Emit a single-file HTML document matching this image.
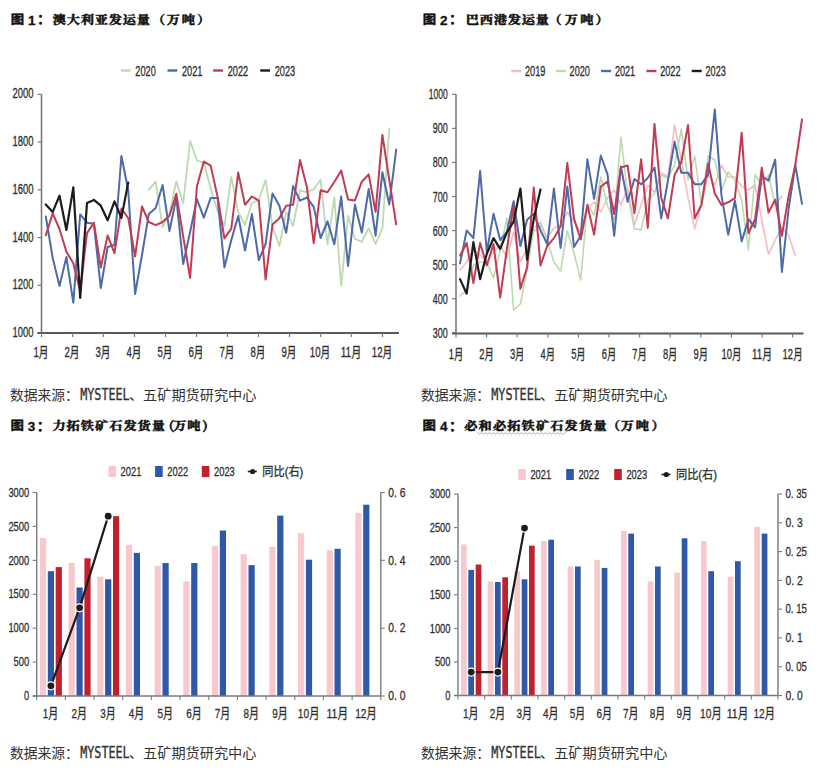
<!DOCTYPE html>
<html><head><meta charset="utf-8"><style>
html,body{margin:0;padding:0;background:#fff;width:821px;height:770px;overflow:hidden}
svg{display:block}
</style></head><body>
<svg width="821" height="770" viewBox="0 0 821 770">
<rect width="821" height="770" fill="#fff"/>
<text x="10.7" y="23.7" font-size="13.4" fill="#111" stroke="#111" stroke-width="0.5" font-weight="bold" font-family='"Liberation Sans", "Noto Sans CJK SC", sans-serif' transform="translate(0 23.7) scale(1 0.9) translate(0 -23.7)">图</text>
<text x="31.8" y="24.6" font-size="13.5" fill="#111" stroke="#111" stroke-width="0.3" font-weight="bold" text-anchor="middle" font-family='"Liberation Sans", sans-serif'>1</text>
<text x="37" y="24.2" font-size="14" fill="#111" stroke="#111" stroke-width="0.3" font-weight="bold" font-family='"Liberation Sans", "Noto Sans CJK SC", sans-serif'>：</text>
<text x="52.7 66.7 80.7 94.7 108.7 122.7 136.7 151.9 166.7 181.7 197.1" y="23.7" transform="translate(0 23.7) scale(1 0.9) translate(0 -23.7)" font-size="13.2" fill="#111" stroke="#111" stroke-width="0.6" font-weight="bold" font-family='"Noto Serif CJK SC", serif'>澳大利亚发运量（万吨）</text>
<line x1="120.8" y1="70.5" x2="130.6" y2="70.5" stroke="#bcd9b0" stroke-width="2.4"/>
<text x="135.3" y="76" font-size="14" fill="#2e2e2e" stroke="#2e2e2e" stroke-width="0.3" textLength="20.5" lengthAdjust="spacingAndGlyphs" font-family='"Liberation Sans", "Noto Sans CJK SC", sans-serif'>2020</text>
<line x1="167.5" y1="70.5" x2="177.3" y2="70.5" stroke="#4d6aa9" stroke-width="2.4"/>
<text x="182" y="76" font-size="14" fill="#2e2e2e" stroke="#2e2e2e" stroke-width="0.3" textLength="20.5" lengthAdjust="spacingAndGlyphs" font-family='"Liberation Sans", "Noto Sans CJK SC", sans-serif'>2021</text>
<line x1="213.2" y1="70.5" x2="223.0" y2="70.5" stroke="#c23b52" stroke-width="2.4"/>
<text x="227.7" y="76" font-size="14" fill="#2e2e2e" stroke="#2e2e2e" stroke-width="0.3" textLength="20.5" lengthAdjust="spacingAndGlyphs" font-family='"Liberation Sans", "Noto Sans CJK SC", sans-serif'>2022</text>
<line x1="260.2" y1="70.5" x2="270.0" y2="70.5" stroke="#1c1c1c" stroke-width="2.4"/>
<text x="274.7" y="76" font-size="14" fill="#2e2e2e" stroke="#2e2e2e" stroke-width="0.3" textLength="20.5" lengthAdjust="spacingAndGlyphs" font-family='"Liberation Sans", "Noto Sans CJK SC", sans-serif'>2023</text>
<line x1="41.5" y1="94.3" x2="41.5" y2="333.0" stroke="#7a7a7a" stroke-width="1.6"/>
<line x1="37.5" y1="94.3" x2="41.5" y2="94.3" stroke="#7a7a7a" stroke-width="1.2"/>
<text x="33.5" y="98.3" font-size="14" fill="#2e2e2e" stroke="#2e2e2e" stroke-width="0.3" text-anchor="end" textLength="21" lengthAdjust="spacingAndGlyphs" font-family='"Liberation Sans", "Noto Sans CJK SC", sans-serif'>2000</text>
<line x1="37.5" y1="142.04" x2="41.5" y2="142.04" stroke="#7a7a7a" stroke-width="1.2"/>
<text x="33.5" y="146.04" font-size="14" fill="#2e2e2e" stroke="#2e2e2e" stroke-width="0.3" text-anchor="end" textLength="21" lengthAdjust="spacingAndGlyphs" font-family='"Liberation Sans", "Noto Sans CJK SC", sans-serif'>1800</text>
<line x1="37.5" y1="189.78" x2="41.5" y2="189.78" stroke="#7a7a7a" stroke-width="1.2"/>
<text x="33.5" y="193.78" font-size="14" fill="#2e2e2e" stroke="#2e2e2e" stroke-width="0.3" text-anchor="end" textLength="21" lengthAdjust="spacingAndGlyphs" font-family='"Liberation Sans", "Noto Sans CJK SC", sans-serif'>1600</text>
<line x1="37.5" y1="237.51999999999998" x2="41.5" y2="237.51999999999998" stroke="#7a7a7a" stroke-width="1.2"/>
<text x="33.5" y="241.52" font-size="14" fill="#2e2e2e" stroke="#2e2e2e" stroke-width="0.3" text-anchor="end" textLength="21" lengthAdjust="spacingAndGlyphs" font-family='"Liberation Sans", "Noto Sans CJK SC", sans-serif'>1400</text>
<line x1="37.5" y1="285.26" x2="41.5" y2="285.26" stroke="#7a7a7a" stroke-width="1.2"/>
<text x="33.5" y="289.26" font-size="14" fill="#2e2e2e" stroke="#2e2e2e" stroke-width="0.3" text-anchor="end" textLength="21" lengthAdjust="spacingAndGlyphs" font-family='"Liberation Sans", "Noto Sans CJK SC", sans-serif'>1200</text>
<line x1="37.5" y1="333.0" x2="41.5" y2="333.0" stroke="#7a7a7a" stroke-width="1.2"/>
<text x="33.5" y="337" font-size="14" fill="#2e2e2e" stroke="#2e2e2e" stroke-width="0.3" text-anchor="end" textLength="21" lengthAdjust="spacingAndGlyphs" font-family='"Liberation Sans", "Noto Sans CJK SC", sans-serif'>1000</text>
<line x1="37.5" y1="333.0" x2="399" y2="333.0" stroke="#5a5a5a" stroke-width="2.2"/>
<line x1="41.5" y1="333.0" x2="41.5" y2="337.0" stroke="#7a7a7a" stroke-width="1.2"/>
<text x="41" y="357.3" font-size="14" fill="#2e2e2e" stroke="#2e2e2e" stroke-width="0.3" text-anchor="middle" textLength="15" lengthAdjust="spacingAndGlyphs" font-family='"Liberation Sans", "Noto Sans CJK SC", sans-serif'>1月</text>
<line x1="72.5" y1="333.0" x2="72.5" y2="337.0" stroke="#7a7a7a" stroke-width="1.2"/>
<text x="72" y="357.3" font-size="14" fill="#2e2e2e" stroke="#2e2e2e" stroke-width="0.3" text-anchor="middle" textLength="15" lengthAdjust="spacingAndGlyphs" font-family='"Liberation Sans", "Noto Sans CJK SC", sans-serif'>2月</text>
<line x1="103.5" y1="333.0" x2="103.5" y2="337.0" stroke="#7a7a7a" stroke-width="1.2"/>
<text x="103" y="357.3" font-size="14" fill="#2e2e2e" stroke="#2e2e2e" stroke-width="0.3" text-anchor="middle" textLength="15" lengthAdjust="spacingAndGlyphs" font-family='"Liberation Sans", "Noto Sans CJK SC", sans-serif'>3月</text>
<line x1="134.5" y1="333.0" x2="134.5" y2="337.0" stroke="#7a7a7a" stroke-width="1.2"/>
<text x="134" y="357.3" font-size="14" fill="#2e2e2e" stroke="#2e2e2e" stroke-width="0.3" text-anchor="middle" textLength="15" lengthAdjust="spacingAndGlyphs" font-family='"Liberation Sans", "Noto Sans CJK SC", sans-serif'>4月</text>
<line x1="165.5" y1="333.0" x2="165.5" y2="337.0" stroke="#7a7a7a" stroke-width="1.2"/>
<text x="165" y="357.3" font-size="14" fill="#2e2e2e" stroke="#2e2e2e" stroke-width="0.3" text-anchor="middle" textLength="15" lengthAdjust="spacingAndGlyphs" font-family='"Liberation Sans", "Noto Sans CJK SC", sans-serif'>5月</text>
<line x1="196.5" y1="333.0" x2="196.5" y2="337.0" stroke="#7a7a7a" stroke-width="1.2"/>
<text x="196" y="357.3" font-size="14" fill="#2e2e2e" stroke="#2e2e2e" stroke-width="0.3" text-anchor="middle" textLength="15" lengthAdjust="spacingAndGlyphs" font-family='"Liberation Sans", "Noto Sans CJK SC", sans-serif'>6月</text>
<line x1="227.5" y1="333.0" x2="227.5" y2="337.0" stroke="#7a7a7a" stroke-width="1.2"/>
<text x="227" y="357.3" font-size="14" fill="#2e2e2e" stroke="#2e2e2e" stroke-width="0.3" text-anchor="middle" textLength="15" lengthAdjust="spacingAndGlyphs" font-family='"Liberation Sans", "Noto Sans CJK SC", sans-serif'>7月</text>
<line x1="258.5" y1="333.0" x2="258.5" y2="337.0" stroke="#7a7a7a" stroke-width="1.2"/>
<text x="258" y="357.3" font-size="14" fill="#2e2e2e" stroke="#2e2e2e" stroke-width="0.3" text-anchor="middle" textLength="15" lengthAdjust="spacingAndGlyphs" font-family='"Liberation Sans", "Noto Sans CJK SC", sans-serif'>8月</text>
<line x1="289.5" y1="333.0" x2="289.5" y2="337.0" stroke="#7a7a7a" stroke-width="1.2"/>
<text x="289" y="357.3" font-size="14" fill="#2e2e2e" stroke="#2e2e2e" stroke-width="0.3" text-anchor="middle" textLength="15" lengthAdjust="spacingAndGlyphs" font-family='"Liberation Sans", "Noto Sans CJK SC", sans-serif'>9月</text>
<line x1="320.5" y1="333.0" x2="320.5" y2="337.0" stroke="#7a7a7a" stroke-width="1.2"/>
<text x="320" y="357.3" font-size="14" fill="#2e2e2e" stroke="#2e2e2e" stroke-width="0.3" text-anchor="middle" textLength="20.5" lengthAdjust="spacingAndGlyphs" font-family='"Liberation Sans", "Noto Sans CJK SC", sans-serif'>10月</text>
<line x1="351.5" y1="333.0" x2="351.5" y2="337.0" stroke="#7a7a7a" stroke-width="1.2"/>
<text x="351" y="357.3" font-size="14" fill="#2e2e2e" stroke="#2e2e2e" stroke-width="0.3" text-anchor="middle" textLength="20.5" lengthAdjust="spacingAndGlyphs" font-family='"Liberation Sans", "Noto Sans CJK SC", sans-serif'>11月</text>
<line x1="382.5" y1="333.0" x2="382.5" y2="337.0" stroke="#7a7a7a" stroke-width="1.2"/>
<text x="382" y="357.3" font-size="14" fill="#2e2e2e" stroke="#2e2e2e" stroke-width="0.3" text-anchor="middle" textLength="20.5" lengthAdjust="spacingAndGlyphs" font-family='"Liberation Sans", "Noto Sans CJK SC", sans-serif'>12月</text>
<polyline points="148.8,189.9 155.7,181.6 162.6,227.0 169.5,213.5 176.3,181.3 183.2,203.1 190.1,140.8 196.9,160.5 203.8,162.6 210.7,188.6 217.6,211.4 224.4,226.0 231.3,177.0 238.2,212.0 245.0,225.0 251.9,203.0 258.8,200.0 265.6,180.0 272.5,227.0 279.4,246.0 286.2,212.0 293.1,226.0 300.0,190.3 306.9,192.3 313.7,189.2 320.6,179.9 327.5,244.3 334.3,197.5 341.2,285.8 348.1,216.0 354.9,238.8 361.8,241.9 368.7,228.4 375.6,244.0 382.4,228.4 389.3,128.7" fill="none" stroke="#bcd9b0" stroke-width="1.8" stroke-linejoin="round" stroke-linecap="round" opacity="1"/>
<polyline points="45.8,216.5 52.7,258.0 59.5,286.0 66.4,257.0 73.3,302.7 80.2,214.4 87.0,222.7 93.9,223.8 100.8,288.0 107.6,247.0 114.5,245.0 121.4,156.0 128.2,190.0 135.1,294.0 142.0,255.0 148.8,214.0 155.7,208.0 162.6,185.0 169.5,231.0 176.3,198.0 183.2,264.0 190.1,232.0 196.9,199.0 203.8,217.7 210.7,197.9 217.6,197.9 224.4,267.5 231.3,240.0 238.2,216.0 245.0,250.5 251.9,214.0 258.8,260.0 265.6,244.0 272.5,193.4 279.4,205.8 286.2,232.9 293.1,186.1 300.0,200.6 306.9,197.5 313.7,206.9 320.6,238.0 327.5,221.4 334.3,244.3 341.2,196.5 348.1,266.0 354.9,204.5 361.8,232.6 368.7,189.0 375.6,235.7 382.4,172.3 389.3,204.5 396.2,149.5" fill="none" stroke="#4d6aa9" stroke-width="2" stroke-linejoin="round" stroke-linecap="round" opacity="1"/>
<polyline points="45.8,235.2 52.7,213.4 59.5,229.0 66.4,251.8 73.3,263.2 80.2,291.3 87.0,233.1 93.9,222.7 100.8,267.6 107.6,235.4 114.5,253.2 121.4,208.6 128.2,218.0 135.1,256.4 142.0,206.5 148.8,222.0 155.7,225.2 162.6,222.0 169.5,215.7 176.3,193.8 183.2,236.4 190.1,277.9 196.9,186.5 203.8,161.6 210.7,165.7 217.6,196.9 224.4,238.4 231.3,228.7 238.2,172.6 245.0,204.8 251.9,196.5 258.8,200.6 265.6,279.6 272.5,224.5 279.4,218.3 286.2,205.8 293.1,204.8 300.0,160.1 306.9,187.1 313.7,243.2 320.6,190.3 327.5,192.3 334.3,182.0 341.2,170.5 348.1,199.5 354.9,200.5 361.8,181.7 368.7,174.4 375.6,211.8 382.4,134.9 389.3,180.0 396.2,224.3" fill="none" stroke="#c23b52" stroke-width="2" stroke-linejoin="round" stroke-linecap="round" opacity="1"/>
<polyline points="45.8,204.4 52.7,211.9 59.5,195.7 66.4,230.0 73.3,187.4 80.2,298.0 87.0,203.0 93.9,199.9 100.8,205.7 107.6,220.3 114.5,201.3 121.4,217.9 128.2,182.6" fill="none" stroke="#1c1c1c" stroke-width="2.2" stroke-linejoin="round" stroke-linecap="round" opacity="1"/>
<text x="422.7" y="23.7" font-size="13.4" fill="#111" stroke="#111" stroke-width="0.5" font-weight="bold" font-family='"Liberation Sans", "Noto Sans CJK SC", sans-serif' transform="translate(0 23.7) scale(1 0.9) translate(0 -23.7)">图</text>
<text x="443.8" y="24.6" font-size="13.5" fill="#111" stroke="#111" stroke-width="0.3" font-weight="bold" text-anchor="middle" font-family='"Liberation Sans", sans-serif'>2</text>
<text x="449" y="24.2" font-size="14" fill="#111" stroke="#111" stroke-width="0.3" font-weight="bold" font-family='"Liberation Sans", "Noto Sans CJK SC", sans-serif'>：</text>
<text x="465.7 479.7 493.7 507.7 521.7 535.7 548.4 564.7 580.2 595.6" y="23.7" transform="translate(0 23.7) scale(1 0.9) translate(0 -23.7)" font-size="13.2" fill="#111" stroke="#111" stroke-width="0.6" font-weight="bold" font-family='"Noto Serif CJK SC", serif'>巴西港发运量（万吨）</text>
<line x1="511.2" y1="71" x2="521.2" y2="71" stroke="#f5bcc5" stroke-width="2.4"/>
<text x="525" y="76.3" font-size="14" fill="#2e2e2e" stroke="#2e2e2e" stroke-width="0.3" textLength="20.3" lengthAdjust="spacingAndGlyphs" font-family='"Liberation Sans", "Noto Sans CJK SC", sans-serif'>2019</text>
<line x1="555.8" y1="71" x2="565.8" y2="71" stroke="#bcd9b0" stroke-width="2.4"/>
<text x="569.6" y="76.3" font-size="14" fill="#2e2e2e" stroke="#2e2e2e" stroke-width="0.3" textLength="20.3" lengthAdjust="spacingAndGlyphs" font-family='"Liberation Sans", "Noto Sans CJK SC", sans-serif'>2020</text>
<line x1="601.1" y1="71" x2="611.1" y2="71" stroke="#4d6aa9" stroke-width="2.4"/>
<text x="614.9" y="76.3" font-size="14" fill="#2e2e2e" stroke="#2e2e2e" stroke-width="0.3" textLength="20.3" lengthAdjust="spacingAndGlyphs" font-family='"Liberation Sans", "Noto Sans CJK SC", sans-serif'>2021</text>
<line x1="646.4" y1="71" x2="656.4" y2="71" stroke="#c23b52" stroke-width="2.4"/>
<text x="660.2" y="76.3" font-size="14" fill="#2e2e2e" stroke="#2e2e2e" stroke-width="0.3" textLength="20.3" lengthAdjust="spacingAndGlyphs" font-family='"Liberation Sans", "Noto Sans CJK SC", sans-serif'>2022</text>
<line x1="691.7" y1="71" x2="701.7" y2="71" stroke="#1c1c1c" stroke-width="2.4"/>
<text x="705.5" y="76.3" font-size="14" fill="#2e2e2e" stroke="#2e2e2e" stroke-width="0.3" textLength="20.3" lengthAdjust="spacingAndGlyphs" font-family='"Liberation Sans", "Noto Sans CJK SC", sans-serif'>2023</text>
<line x1="456.0" y1="94.3" x2="456.0" y2="333.5" stroke="#7a7a7a" stroke-width="1.6"/>
<line x1="452.0" y1="94.3" x2="456.0" y2="94.3" stroke="#7a7a7a" stroke-width="1.2"/>
<text x="447.8" y="99.3" font-size="14" fill="#2e2e2e" stroke="#2e2e2e" stroke-width="0.3" text-anchor="end" textLength="19" lengthAdjust="spacingAndGlyphs" font-family='"Liberation Sans", "Noto Sans CJK SC", sans-serif'>1000</text>
<line x1="452.0" y1="128.37" x2="456.0" y2="128.37" stroke="#7a7a7a" stroke-width="1.2"/>
<text x="447.8" y="133.37" font-size="14" fill="#2e2e2e" stroke="#2e2e2e" stroke-width="0.3" text-anchor="end" textLength="15" lengthAdjust="spacingAndGlyphs" font-family='"Liberation Sans", "Noto Sans CJK SC", sans-serif'>900</text>
<line x1="452.0" y1="162.44" x2="456.0" y2="162.44" stroke="#7a7a7a" stroke-width="1.2"/>
<text x="447.8" y="167.44" font-size="14" fill="#2e2e2e" stroke="#2e2e2e" stroke-width="0.3" text-anchor="end" textLength="15" lengthAdjust="spacingAndGlyphs" font-family='"Liberation Sans", "Noto Sans CJK SC", sans-serif'>800</text>
<line x1="452.0" y1="196.51" x2="456.0" y2="196.51" stroke="#7a7a7a" stroke-width="1.2"/>
<text x="447.8" y="201.51" font-size="14" fill="#2e2e2e" stroke="#2e2e2e" stroke-width="0.3" text-anchor="end" textLength="15" lengthAdjust="spacingAndGlyphs" font-family='"Liberation Sans", "Noto Sans CJK SC", sans-serif'>700</text>
<line x1="452.0" y1="230.57999999999998" x2="456.0" y2="230.57999999999998" stroke="#7a7a7a" stroke-width="1.2"/>
<text x="447.8" y="235.58" font-size="14" fill="#2e2e2e" stroke="#2e2e2e" stroke-width="0.3" text-anchor="end" textLength="15" lengthAdjust="spacingAndGlyphs" font-family='"Liberation Sans", "Noto Sans CJK SC", sans-serif'>600</text>
<line x1="452.0" y1="264.65" x2="456.0" y2="264.65" stroke="#7a7a7a" stroke-width="1.2"/>
<text x="447.8" y="269.65" font-size="14" fill="#2e2e2e" stroke="#2e2e2e" stroke-width="0.3" text-anchor="end" textLength="15" lengthAdjust="spacingAndGlyphs" font-family='"Liberation Sans", "Noto Sans CJK SC", sans-serif'>500</text>
<line x1="452.0" y1="298.72" x2="456.0" y2="298.72" stroke="#7a7a7a" stroke-width="1.2"/>
<text x="447.8" y="303.72" font-size="14" fill="#2e2e2e" stroke="#2e2e2e" stroke-width="0.3" text-anchor="end" textLength="15" lengthAdjust="spacingAndGlyphs" font-family='"Liberation Sans", "Noto Sans CJK SC", sans-serif'>400</text>
<line x1="452.0" y1="332.79" x2="456.0" y2="332.79" stroke="#7a7a7a" stroke-width="1.2"/>
<text x="447.8" y="337.79" font-size="14" fill="#2e2e2e" stroke="#2e2e2e" stroke-width="0.3" text-anchor="end" textLength="15" lengthAdjust="spacingAndGlyphs" font-family='"Liberation Sans", "Noto Sans CJK SC", sans-serif'>300</text>
<line x1="452.0" y1="333.5" x2="803.5" y2="333.5" stroke="#5a5a5a" stroke-width="2.2"/>
<line x1="456.0" y1="333.5" x2="456.0" y2="337.5" stroke="#7a7a7a" stroke-width="1.2"/>
<text x="456" y="359" font-size="14" fill="#2e2e2e" stroke="#2e2e2e" stroke-width="0.3" text-anchor="middle" textLength="14.5" lengthAdjust="spacingAndGlyphs" font-family='"Liberation Sans", "Noto Sans CJK SC", sans-serif'>1月</text>
<line x1="486.6" y1="333.5" x2="486.6" y2="337.5" stroke="#7a7a7a" stroke-width="1.2"/>
<text x="486.6" y="359" font-size="14" fill="#2e2e2e" stroke="#2e2e2e" stroke-width="0.3" text-anchor="middle" textLength="14.5" lengthAdjust="spacingAndGlyphs" font-family='"Liberation Sans", "Noto Sans CJK SC", sans-serif'>2月</text>
<line x1="517.2" y1="333.5" x2="517.2" y2="337.5" stroke="#7a7a7a" stroke-width="1.2"/>
<text x="517.2" y="359" font-size="14" fill="#2e2e2e" stroke="#2e2e2e" stroke-width="0.3" text-anchor="middle" textLength="14.5" lengthAdjust="spacingAndGlyphs" font-family='"Liberation Sans", "Noto Sans CJK SC", sans-serif'>3月</text>
<line x1="547.8" y1="333.5" x2="547.8" y2="337.5" stroke="#7a7a7a" stroke-width="1.2"/>
<text x="547.8" y="359" font-size="14" fill="#2e2e2e" stroke="#2e2e2e" stroke-width="0.3" text-anchor="middle" textLength="14.5" lengthAdjust="spacingAndGlyphs" font-family='"Liberation Sans", "Noto Sans CJK SC", sans-serif'>4月</text>
<line x1="578.4" y1="333.5" x2="578.4" y2="337.5" stroke="#7a7a7a" stroke-width="1.2"/>
<text x="578.4" y="359" font-size="14" fill="#2e2e2e" stroke="#2e2e2e" stroke-width="0.3" text-anchor="middle" textLength="14.5" lengthAdjust="spacingAndGlyphs" font-family='"Liberation Sans", "Noto Sans CJK SC", sans-serif'>5月</text>
<line x1="609.0" y1="333.5" x2="609.0" y2="337.5" stroke="#7a7a7a" stroke-width="1.2"/>
<text x="609" y="359" font-size="14" fill="#2e2e2e" stroke="#2e2e2e" stroke-width="0.3" text-anchor="middle" textLength="14.5" lengthAdjust="spacingAndGlyphs" font-family='"Liberation Sans", "Noto Sans CJK SC", sans-serif'>6月</text>
<line x1="639.6" y1="333.5" x2="639.6" y2="337.5" stroke="#7a7a7a" stroke-width="1.2"/>
<text x="639.6" y="359" font-size="14" fill="#2e2e2e" stroke="#2e2e2e" stroke-width="0.3" text-anchor="middle" textLength="14.5" lengthAdjust="spacingAndGlyphs" font-family='"Liberation Sans", "Noto Sans CJK SC", sans-serif'>7月</text>
<line x1="670.2" y1="333.5" x2="670.2" y2="337.5" stroke="#7a7a7a" stroke-width="1.2"/>
<text x="670.2" y="359" font-size="14" fill="#2e2e2e" stroke="#2e2e2e" stroke-width="0.3" text-anchor="middle" textLength="14.5" lengthAdjust="spacingAndGlyphs" font-family='"Liberation Sans", "Noto Sans CJK SC", sans-serif'>8月</text>
<line x1="700.8" y1="333.5" x2="700.8" y2="337.5" stroke="#7a7a7a" stroke-width="1.2"/>
<text x="700.8" y="359" font-size="14" fill="#2e2e2e" stroke="#2e2e2e" stroke-width="0.3" text-anchor="middle" textLength="14.5" lengthAdjust="spacingAndGlyphs" font-family='"Liberation Sans", "Noto Sans CJK SC", sans-serif'>9月</text>
<line x1="731.4000000000001" y1="333.5" x2="731.4000000000001" y2="337.5" stroke="#7a7a7a" stroke-width="1.2"/>
<text x="731.4" y="359" font-size="14" fill="#2e2e2e" stroke="#2e2e2e" stroke-width="0.3" text-anchor="middle" textLength="20" lengthAdjust="spacingAndGlyphs" font-family='"Liberation Sans", "Noto Sans CJK SC", sans-serif'>10月</text>
<line x1="762.0" y1="333.5" x2="762.0" y2="337.5" stroke="#7a7a7a" stroke-width="1.2"/>
<text x="762" y="359" font-size="14" fill="#2e2e2e" stroke="#2e2e2e" stroke-width="0.3" text-anchor="middle" textLength="20" lengthAdjust="spacingAndGlyphs" font-family='"Liberation Sans", "Noto Sans CJK SC", sans-serif'>11月</text>
<line x1="792.6" y1="333.5" x2="792.6" y2="337.5" stroke="#7a7a7a" stroke-width="1.2"/>
<text x="792.6" y="359" font-size="14" fill="#2e2e2e" stroke="#2e2e2e" stroke-width="0.3" text-anchor="middle" textLength="20" lengthAdjust="spacingAndGlyphs" font-family='"Liberation Sans", "Noto Sans CJK SC", sans-serif'>12月</text>
<polyline points="460.0,270.0 466.7,262.0 473.4,250.0 480.1,255.0 486.8,262.0 493.5,252.0 500.2,245.0 506.9,258.0 513.6,232.0 520.4,262.0 527.1,248.0 533.8,232.0 540.5,225.0 547.2,238.0 553.9,228.0 560.6,225.0 567.3,212.0 574.0,222.0 580.7,232.0 587.4,208.0 594.1,202.0 600.8,212.0 607.5,198.0 614.2,190.0 620.9,205.0 627.6,188.0 634.4,224.7 641.1,205.0 647.8,185.2 654.5,192.0 661.2,172.7 667.9,176.9 674.6,125.0 681.3,160.0 688.0,197.7 694.7,228.8 701.4,205.0 708.1,175.0 714.8,185.0 721.5,165.0 728.2,177.0 734.9,177.0 741.7,186.5 748.4,190.0 755.1,185.0 761.8,220.0 768.5,254.3 775.2,240.0 781.9,227.3 788.6,235.0 795.3,255.8" fill="none" stroke="#f5bcc5" stroke-width="1.6" stroke-linejoin="round" stroke-linecap="round" opacity="1"/>
<polyline points="460.0,296.0 466.7,290.0 473.4,265.0 480.1,262.0 486.8,262.0 493.5,278.0 500.2,250.0 506.9,218.0 513.6,310.0 520.4,304.0 527.1,270.0 533.8,228.0 540.5,222.0 547.2,240.0 553.9,262.0 560.6,271.0 567.3,231.0 574.0,253.0 580.7,280.0 587.4,204.0 594.1,215.0 600.8,177.0 607.5,206.0 614.2,220.0 620.9,137.0 627.6,193.5 634.4,228.8 641.1,229.9 647.8,200.0 654.5,193.5 661.2,175.0 667.9,178.0 674.6,165.0 681.3,129.0 688.0,180.0 694.7,156.0 701.4,204.0 708.1,156.0 714.8,160.0 721.5,191.0 728.2,172.0 734.9,180.0 741.7,200.0 748.4,249.6 755.1,174.8 761.8,185.0 768.5,175.0 775.2,205.0 781.9,196.0" fill="none" stroke="#bcd9b0" stroke-width="1.6" stroke-linejoin="round" stroke-linecap="round" opacity="1"/>
<polyline points="460.0,263.5 466.7,230.4 473.4,238.2 480.1,171.0 486.8,251.8 493.5,213.8 500.2,240.1 506.9,232.0 513.6,201.2 520.4,246.0 527.1,219.7 533.8,213.8 540.5,230.4 547.2,244.0 553.9,188.5 560.6,248.0 567.3,186.5 574.0,246.9 580.7,235.8 587.4,159.3 594.1,198.8 600.8,155.6 607.5,174.1 614.2,235.8 620.9,166.5 627.6,201.8 634.4,179.0 641.1,184.2 647.8,178.0 654.5,167.5 661.2,218.4 667.9,181.0 674.6,141.6 681.3,172.7 688.0,172.7 694.7,184.2 701.4,184.2 708.1,174.8 714.8,109.4 721.5,195.6 728.2,234.7 734.9,200.5 741.7,241.4 748.4,219.2 755.1,227.4 761.8,176.0 768.5,180.6 775.2,159.6 781.9,272.0 788.6,209.1 795.3,164.9 802.0,203.9" fill="none" stroke="#4d6aa9" stroke-width="2" stroke-linejoin="round" stroke-linecap="round" opacity="1"/>
<polyline points="460.0,255.7 466.7,243.0 473.4,283.0 480.1,243.0 486.8,265.5 493.5,244.0 500.2,297.6 506.9,249.0 513.6,206.0 520.4,288.8 527.1,267.4 533.8,187.5 540.5,265.5 547.2,246.0 553.9,238.2 560.6,226.3 567.3,163.0 574.0,218.6 580.7,239.5 587.4,205.0 594.1,234.6 600.8,186.5 607.5,181.6 614.2,214.0 620.9,167.5 627.6,165.5 634.4,213.2 641.1,159.2 647.8,227.8 654.5,123.9 661.2,197.7 667.9,218.4 674.6,175.0 681.3,162.3 688.0,124.9 694.7,218.4 701.4,205.0 708.1,163.4 714.8,193.5 721.5,205.0 728.2,202.3 734.9,198.2 741.7,132.7 748.4,233.2 755.1,219.2 761.8,167.7 768.5,212.5 775.2,199.6 781.9,235.9 788.6,196.1 795.3,164.9 802.0,119.5" fill="none" stroke="#c23b52" stroke-width="2" stroke-linejoin="round" stroke-linecap="round" opacity="1"/>
<polyline points="460.0,279.1 466.7,293.7 473.4,242.1 480.1,279.1 486.8,253.8 493.5,238.2 500.2,248.9 506.9,232.3 513.6,221.6 520.4,188.5 527.1,259.6 533.8,218.7 540.5,189.5" fill="none" stroke="#1c1c1c" stroke-width="2.2" stroke-linejoin="round" stroke-linecap="round" opacity="1"/>
<text x="9.9" y="400" font-size="14" fill="#333" textLength="69" lengthAdjust="spacingAndGlyphs" font-family='"Liberation Sans", "Noto Sans CJK SC", sans-serif'>数据来源：</text>
<text x="80.2" y="399.7" font-size="15" fill="#333" stroke="#333" stroke-width="0.35" textLength="49.5" lengthAdjust="spacingAndGlyphs" font-family='"DejaVu Sans Mono", monospace'>MYSTEEL</text>
<text x="128.9" y="400" font-size="14" fill="#333" textLength="127.5" lengthAdjust="spacingAndGlyphs" font-family='"Liberation Sans", "Noto Sans CJK SC", sans-serif'>、五矿期货研究中心</text>
<text x="421" y="400" font-size="14" fill="#333" textLength="69" lengthAdjust="spacingAndGlyphs" font-family='"Liberation Sans", "Noto Sans CJK SC", sans-serif'>数据来源：</text>
<text x="491.3" y="399.7" font-size="15" fill="#333" stroke="#333" stroke-width="0.35" textLength="49.5" lengthAdjust="spacingAndGlyphs" font-family='"DejaVu Sans Mono", monospace'>MYSTEEL</text>
<text x="540" y="400" font-size="14" fill="#333" textLength="127.5" lengthAdjust="spacingAndGlyphs" font-family='"Liberation Sans", "Noto Sans CJK SC", sans-serif'>、五矿期货研究中心</text>
<text x="10.4" y="430.0" font-size="13.4" fill="#111" stroke="#111" stroke-width="0.5" font-weight="bold" font-family='"Liberation Sans", "Noto Sans CJK SC", sans-serif' transform="translate(0 430.0) scale(1 0.9) translate(0 -430.0)">图</text>
<text x="31.5" y="430.9" font-size="13.5" fill="#111" stroke="#111" stroke-width="0.3" font-weight="bold" text-anchor="middle" font-family='"Liberation Sans", sans-serif'>3</text>
<text x="36.7" y="430.5" font-size="14" fill="#111" stroke="#111" stroke-width="0.3" font-weight="bold" font-family='"Liberation Sans", "Noto Sans CJK SC", sans-serif'>：</text>
<text x="52.4 66.6 80.8 95.0 109.2 123.4 137.6 151.8 168.7 173.2 187.2 202.4" y="430.0" transform="translate(0 430.0) scale(1 0.9) translate(0 -430.0)" font-size="13.2" fill="#111" stroke="#111" stroke-width="0.6" font-weight="bold" font-family='"Noto Serif CJK SC", serif'>力拓铁矿石发货量(万吨)</text>
<rect x="108.4" y="466.0" width="7.6" height="11.0" fill="#f7c8cd"/>
<text x="120.6" y="475.7" font-size="13.5" fill="#2e2e2e" stroke="#2e2e2e" stroke-width="0.3" textLength="20.8" lengthAdjust="spacingAndGlyphs" font-family='"Liberation Sans", "Noto Sans CJK SC", sans-serif'>2021</text>
<rect x="155.1" y="466.0" width="7.6" height="11.0" fill="#2f58a8"/>
<text x="167.3" y="475.7" font-size="13.5" fill="#2e2e2e" stroke="#2e2e2e" stroke-width="0.3" textLength="20.8" lengthAdjust="spacingAndGlyphs" font-family='"Liberation Sans", "Noto Sans CJK SC", sans-serif'>2022</text>
<rect x="201.8" y="466.0" width="7.6" height="11.0" fill="#c1202f"/>
<text x="214" y="475.7" font-size="13.5" fill="#2e2e2e" stroke="#2e2e2e" stroke-width="0.3" textLength="20.8" lengthAdjust="spacingAndGlyphs" font-family='"Liberation Sans", "Noto Sans CJK SC", sans-serif'>2023</text>
<line x1="247.80000000000004" y1="471.5" x2="256.80000000000007" y2="471.5" stroke="#1c1c1c" stroke-width="1.6"/>
<circle cx="252.60000000000005" cy="471.5" r="2.6" fill="#1c1c1c"/>
<text x="262.3" y="475.8" font-size="12" fill="#2e2e2e" stroke="#2e2e2e" stroke-width="0.3" textLength="41" lengthAdjust="spacingAndGlyphs" font-family='"Liberation Sans", "Noto Sans CJK SC", sans-serif'>同比(右)</text>
<rect x="39.9" y="537.9" width="6.2" height="158.1" fill="#f7c8cd"/>
<rect x="47.8" y="571.2" width="6.2" height="124.8" fill="#2f58a8"/>
<rect x="55.7" y="567.1" width="6.2" height="128.9" fill="#c1202f"/>
<rect x="68.6" y="563.0" width="6.2" height="133.0" fill="#f7c8cd"/>
<rect x="76.5" y="587.5" width="6.2" height="108.5" fill="#2f58a8"/>
<rect x="84.4" y="558.3" width="6.2" height="137.7" fill="#c1202f"/>
<rect x="97.3" y="576.6" width="6.2" height="119.4" fill="#f7c8cd"/>
<rect x="105.1" y="579.3" width="6.2" height="116.7" fill="#2f58a8"/>
<rect x="113.0" y="516.2" width="6.2" height="179.8" fill="#c1202f"/>
<rect x="125.9" y="544.7" width="6.2" height="151.3" fill="#f7c8cd"/>
<rect x="133.8" y="552.9" width="6.2" height="143.1" fill="#2f58a8"/>
<rect x="154.6" y="565.8" width="6.2" height="130.2" fill="#f7c8cd"/>
<rect x="162.5" y="563.0" width="6.2" height="133.0" fill="#2f58a8"/>
<rect x="183.3" y="581.4" width="6.2" height="114.6" fill="#f7c8cd"/>
<rect x="191.2" y="563.0" width="6.2" height="133.0" fill="#2f58a8"/>
<rect x="212.0" y="546.1" width="6.2" height="149.9" fill="#f7c8cd"/>
<rect x="219.8" y="530.5" width="6.2" height="165.5" fill="#2f58a8"/>
<rect x="240.6" y="554.2" width="6.2" height="141.8" fill="#f7c8cd"/>
<rect x="248.5" y="565.1" width="6.2" height="130.9" fill="#2f58a8"/>
<rect x="269.3" y="546.8" width="6.2" height="149.2" fill="#f7c8cd"/>
<rect x="277.2" y="515.6" width="6.2" height="180.4" fill="#2f58a8"/>
<rect x="298.0" y="533.2" width="6.2" height="162.8" fill="#f7c8cd"/>
<rect x="305.9" y="559.7" width="6.2" height="136.3" fill="#2f58a8"/>
<rect x="326.7" y="550.2" width="6.2" height="145.8" fill="#f7c8cd"/>
<rect x="334.5" y="548.8" width="6.2" height="147.2" fill="#2f58a8"/>
<rect x="355.3" y="512.9" width="6.2" height="183.1" fill="#f7c8cd"/>
<rect x="363.2" y="504.7" width="6.2" height="191.3" fill="#2f58a8"/>
<line x1="36.7" y1="492.5" x2="36.7" y2="696.0" stroke="#7a7a7a" stroke-width="1.4"/>
<line x1="380.8" y1="492.5" x2="380.8" y2="696.0" stroke="#7a7a7a" stroke-width="1.4"/>
<line x1="32.7" y1="492.5" x2="36.7" y2="492.5" stroke="#7a7a7a" stroke-width="1.1"/>
<text x="29.2" y="496.7" font-size="13" fill="#2e2e2e" stroke="#2e2e2e" stroke-width="0.3" text-anchor="end" textLength="20.8" lengthAdjust="spacingAndGlyphs" font-family='"Liberation Sans", "Noto Sans CJK SC", sans-serif'>3000</text>
<line x1="32.7" y1="526.4166666666666" x2="36.7" y2="526.4166666666666" stroke="#7a7a7a" stroke-width="1.1"/>
<text x="29.2" y="530.62" font-size="13" fill="#2e2e2e" stroke="#2e2e2e" stroke-width="0.3" text-anchor="end" textLength="20.8" lengthAdjust="spacingAndGlyphs" font-family='"Liberation Sans", "Noto Sans CJK SC", sans-serif'>2500</text>
<line x1="32.7" y1="560.3333333333334" x2="36.7" y2="560.3333333333334" stroke="#7a7a7a" stroke-width="1.1"/>
<text x="29.2" y="564.53" font-size="13" fill="#2e2e2e" stroke="#2e2e2e" stroke-width="0.3" text-anchor="end" textLength="20.8" lengthAdjust="spacingAndGlyphs" font-family='"Liberation Sans", "Noto Sans CJK SC", sans-serif'>2000</text>
<line x1="32.7" y1="594.25" x2="36.7" y2="594.25" stroke="#7a7a7a" stroke-width="1.1"/>
<text x="29.2" y="598.45" font-size="13" fill="#2e2e2e" stroke="#2e2e2e" stroke-width="0.3" text-anchor="end" textLength="20.8" lengthAdjust="spacingAndGlyphs" font-family='"Liberation Sans", "Noto Sans CJK SC", sans-serif'>1500</text>
<line x1="32.7" y1="628.1666666666666" x2="36.7" y2="628.1666666666666" stroke="#7a7a7a" stroke-width="1.1"/>
<text x="29.2" y="632.37" font-size="13" fill="#2e2e2e" stroke="#2e2e2e" stroke-width="0.3" text-anchor="end" textLength="20.8" lengthAdjust="spacingAndGlyphs" font-family='"Liberation Sans", "Noto Sans CJK SC", sans-serif'>1000</text>
<line x1="32.7" y1="662.0833333333334" x2="36.7" y2="662.0833333333334" stroke="#7a7a7a" stroke-width="1.1"/>
<text x="29.2" y="666.28" font-size="13" fill="#2e2e2e" stroke="#2e2e2e" stroke-width="0.3" text-anchor="end" textLength="15.600000000000001" lengthAdjust="spacingAndGlyphs" font-family='"Liberation Sans", "Noto Sans CJK SC", sans-serif'>500</text>
<line x1="32.7" y1="696.0" x2="36.7" y2="696.0" stroke="#7a7a7a" stroke-width="1.1"/>
<text x="29.2" y="700.2" font-size="13" fill="#2e2e2e" stroke="#2e2e2e" stroke-width="0.3" text-anchor="end" textLength="5.2" lengthAdjust="spacingAndGlyphs" font-family='"Liberation Sans", "Noto Sans CJK SC", sans-serif'>0</text>
<line x1="380.8" y1="492.5" x2="384.8" y2="492.5" stroke="#7a7a7a" stroke-width="1.1"/>
<text x="388.3" y="496.7" font-size="13" fill="#2e2e2e" stroke="#2e2e2e" stroke-width="0.3" textLength="17.2" lengthAdjust="spacingAndGlyphs" font-family='"Liberation Sans", "Noto Sans CJK SC", sans-serif'>0. 6</text>
<line x1="380.8" y1="560.3333333333334" x2="384.8" y2="560.3333333333334" stroke="#7a7a7a" stroke-width="1.1"/>
<text x="388.3" y="564.53" font-size="13" fill="#2e2e2e" stroke="#2e2e2e" stroke-width="0.3" textLength="17.2" lengthAdjust="spacingAndGlyphs" font-family='"Liberation Sans", "Noto Sans CJK SC", sans-serif'>0. 4</text>
<line x1="380.8" y1="628.1666666666666" x2="384.8" y2="628.1666666666666" stroke="#7a7a7a" stroke-width="1.1"/>
<text x="388.3" y="632.37" font-size="13" fill="#2e2e2e" stroke="#2e2e2e" stroke-width="0.3" textLength="17.2" lengthAdjust="spacingAndGlyphs" font-family='"Liberation Sans", "Noto Sans CJK SC", sans-serif'>0. 2</text>
<line x1="380.8" y1="696.0" x2="384.8" y2="696.0" stroke="#7a7a7a" stroke-width="1.1"/>
<text x="388.3" y="700.2" font-size="13" fill="#2e2e2e" stroke="#2e2e2e" stroke-width="0.3" textLength="17.2" lengthAdjust="spacingAndGlyphs" font-family='"Liberation Sans", "Noto Sans CJK SC", sans-serif'>0. 0</text>
<line x1="32.7" y1="696.0" x2="380.8" y2="696.0" stroke="#7a7a7a" stroke-width="1.6"/>
<line x1="36.7" y1="696.0" x2="36.7" y2="700.0" stroke="#7a7a7a" stroke-width="1.1"/>
<line x1="65.375" y1="696.0" x2="65.375" y2="700.0" stroke="#7a7a7a" stroke-width="1.1"/>
<line x1="94.05000000000001" y1="696.0" x2="94.05000000000001" y2="700.0" stroke="#7a7a7a" stroke-width="1.1"/>
<line x1="122.72500000000001" y1="696.0" x2="122.72500000000001" y2="700.0" stroke="#7a7a7a" stroke-width="1.1"/>
<line x1="151.4" y1="696.0" x2="151.4" y2="700.0" stroke="#7a7a7a" stroke-width="1.1"/>
<line x1="180.075" y1="696.0" x2="180.075" y2="700.0" stroke="#7a7a7a" stroke-width="1.1"/>
<line x1="208.75" y1="696.0" x2="208.75" y2="700.0" stroke="#7a7a7a" stroke-width="1.1"/>
<line x1="237.425" y1="696.0" x2="237.425" y2="700.0" stroke="#7a7a7a" stroke-width="1.1"/>
<line x1="266.1" y1="696.0" x2="266.1" y2="700.0" stroke="#7a7a7a" stroke-width="1.1"/>
<line x1="294.775" y1="696.0" x2="294.775" y2="700.0" stroke="#7a7a7a" stroke-width="1.1"/>
<line x1="323.45" y1="696.0" x2="323.45" y2="700.0" stroke="#7a7a7a" stroke-width="1.1"/>
<line x1="352.125" y1="696.0" x2="352.125" y2="700.0" stroke="#7a7a7a" stroke-width="1.1"/>
<line x1="380.8" y1="696.0" x2="380.8" y2="700.0" stroke="#7a7a7a" stroke-width="1.1"/>
<text x="50.54" y="718.3" font-size="13.5" fill="#2e2e2e" stroke="#2e2e2e" stroke-width="0.3" text-anchor="middle" textLength="15.5" lengthAdjust="spacingAndGlyphs" font-family='"Liberation Sans", "Noto Sans CJK SC", sans-serif'>1月</text>
<text x="79.21" y="718.3" font-size="13.5" fill="#2e2e2e" stroke="#2e2e2e" stroke-width="0.3" text-anchor="middle" textLength="15.5" lengthAdjust="spacingAndGlyphs" font-family='"Liberation Sans", "Noto Sans CJK SC", sans-serif'>2月</text>
<text x="107.89" y="718.3" font-size="13.5" fill="#2e2e2e" stroke="#2e2e2e" stroke-width="0.3" text-anchor="middle" textLength="15.5" lengthAdjust="spacingAndGlyphs" font-family='"Liberation Sans", "Noto Sans CJK SC", sans-serif'>3月</text>
<text x="136.56" y="718.3" font-size="13.5" fill="#2e2e2e" stroke="#2e2e2e" stroke-width="0.3" text-anchor="middle" textLength="15.5" lengthAdjust="spacingAndGlyphs" font-family='"Liberation Sans", "Noto Sans CJK SC", sans-serif'>4月</text>
<text x="165.24" y="718.3" font-size="13.5" fill="#2e2e2e" stroke="#2e2e2e" stroke-width="0.3" text-anchor="middle" textLength="15.5" lengthAdjust="spacingAndGlyphs" font-family='"Liberation Sans", "Noto Sans CJK SC", sans-serif'>5月</text>
<text x="193.91" y="718.3" font-size="13.5" fill="#2e2e2e" stroke="#2e2e2e" stroke-width="0.3" text-anchor="middle" textLength="15.5" lengthAdjust="spacingAndGlyphs" font-family='"Liberation Sans", "Noto Sans CJK SC", sans-serif'>6月</text>
<text x="222.59" y="718.3" font-size="13.5" fill="#2e2e2e" stroke="#2e2e2e" stroke-width="0.3" text-anchor="middle" textLength="15.5" lengthAdjust="spacingAndGlyphs" font-family='"Liberation Sans", "Noto Sans CJK SC", sans-serif'>7月</text>
<text x="251.26" y="718.3" font-size="13.5" fill="#2e2e2e" stroke="#2e2e2e" stroke-width="0.3" text-anchor="middle" textLength="15.5" lengthAdjust="spacingAndGlyphs" font-family='"Liberation Sans", "Noto Sans CJK SC", sans-serif'>8月</text>
<text x="279.94" y="718.3" font-size="13.5" fill="#2e2e2e" stroke="#2e2e2e" stroke-width="0.3" text-anchor="middle" textLength="15.5" lengthAdjust="spacingAndGlyphs" font-family='"Liberation Sans", "Noto Sans CJK SC", sans-serif'>9月</text>
<text x="308.61" y="718.3" font-size="13.5" fill="#2e2e2e" stroke="#2e2e2e" stroke-width="0.3" text-anchor="middle" textLength="21.5" lengthAdjust="spacingAndGlyphs" font-family='"Liberation Sans", "Noto Sans CJK SC", sans-serif'>10月</text>
<text x="337.29" y="718.3" font-size="13.5" fill="#2e2e2e" stroke="#2e2e2e" stroke-width="0.3" text-anchor="middle" textLength="21.5" lengthAdjust="spacingAndGlyphs" font-family='"Liberation Sans", "Noto Sans CJK SC", sans-serif'>11月</text>
<text x="365.96" y="718.3" font-size="13.5" fill="#2e2e2e" stroke="#2e2e2e" stroke-width="0.3" text-anchor="middle" textLength="21.5" lengthAdjust="spacingAndGlyphs" font-family='"Liberation Sans", "Noto Sans CJK SC", sans-serif'>12月</text>
<polyline points="50.9,685.8 79.6,607.8 108.2,516.2" fill="none" stroke="#1c1c1c" stroke-width="2.2" stroke-linejoin="round" stroke-linecap="round" opacity="1"/>
<circle cx="50.9" cy="685.8" r="4.6" fill="#fff"/>
<circle cx="50.9" cy="685.8" r="3.4" fill="#1c1c1c"/>
<circle cx="79.6" cy="607.8" r="4.6" fill="#fff"/>
<circle cx="79.6" cy="607.8" r="3.4" fill="#1c1c1c"/>
<circle cx="108.2" cy="516.2" r="4.6" fill="#fff"/>
<circle cx="108.2" cy="516.2" r="3.4" fill="#1c1c1c"/>
<text x="422.6" y="430.0" font-size="13.4" fill="#111" stroke="#111" stroke-width="0.5" font-weight="bold" font-family='"Liberation Sans", "Noto Sans CJK SC", sans-serif' transform="translate(0 430.0) scale(1 0.9) translate(0 -430.0)">图</text>
<text x="443.7" y="430.9" font-size="13.5" fill="#111" stroke="#111" stroke-width="0.3" font-weight="bold" text-anchor="middle" font-family='"Liberation Sans", sans-serif'>4</text>
<text x="448.9" y="430.5" font-size="14" fill="#111" stroke="#111" stroke-width="0.3" font-weight="bold" font-family='"Liberation Sans", "Noto Sans CJK SC", sans-serif'>：</text>
<text x="464.2 478.6 492.9 507.2 521.6 535.9 550.3 564.6 579.0 593.4 606.9 620.7 635.7 651.6" y="430.0" transform="translate(0 430.0) scale(1 0.9) translate(0 -430.0)" font-size="13.2" fill="#111" stroke="#111" stroke-width="0.6" font-weight="bold" font-family='"Noto Serif CJK SC", serif'>必和必拓铁矿石发货量（万吨）</text>
<rect x="518.2" y="469.0" width="7.6" height="11.0" fill="#f7c8cd"/>
<text x="530.4" y="478.7" font-size="13.5" fill="#2e2e2e" stroke="#2e2e2e" stroke-width="0.3" textLength="20.8" lengthAdjust="spacingAndGlyphs" font-family='"Liberation Sans", "Noto Sans CJK SC", sans-serif'>2021</text>
<rect x="566.2" y="469.0" width="7.6" height="11.0" fill="#2f58a8"/>
<text x="578.4" y="478.7" font-size="13.5" fill="#2e2e2e" stroke="#2e2e2e" stroke-width="0.3" textLength="20.8" lengthAdjust="spacingAndGlyphs" font-family='"Liberation Sans", "Noto Sans CJK SC", sans-serif'>2022</text>
<rect x="614.2" y="469.0" width="7.6" height="11.0" fill="#c1202f"/>
<text x="626.4" y="478.7" font-size="13.5" fill="#2e2e2e" stroke="#2e2e2e" stroke-width="0.3" textLength="20.8" lengthAdjust="spacingAndGlyphs" font-family='"Liberation Sans", "Noto Sans CJK SC", sans-serif'>2023</text>
<line x1="661.5" y1="474.5" x2="670.5" y2="474.5" stroke="#1c1c1c" stroke-width="1.6"/>
<circle cx="666.3" cy="474.5" r="2.6" fill="#1c1c1c"/>
<text x="676" y="478.8" font-size="12" fill="#2e2e2e" stroke="#2e2e2e" stroke-width="0.3" textLength="41" lengthAdjust="spacingAndGlyphs" font-family='"Liberation Sans", "Noto Sans CJK SC", sans-serif'>同比(右)</text>
<rect x="461.0" y="544.4" width="5.7" height="151.1" fill="#f7c8cd"/>
<rect x="468.3" y="569.9" width="5.7" height="125.6" fill="#2f58a8"/>
<rect x="475.7" y="564.5" width="5.7" height="131.0" fill="#c1202f"/>
<rect x="487.7" y="581.4" width="5.7" height="114.1" fill="#f7c8cd"/>
<rect x="495.0" y="582.0" width="5.7" height="113.5" fill="#2f58a8"/>
<rect x="502.3" y="577.3" width="5.7" height="118.2" fill="#c1202f"/>
<rect x="514.3" y="571.2" width="5.7" height="124.3" fill="#f7c8cd"/>
<rect x="521.7" y="579.3" width="5.7" height="116.2" fill="#2f58a8"/>
<rect x="529.0" y="545.7" width="5.7" height="149.8" fill="#c1202f"/>
<rect x="541.0" y="541.0" width="5.7" height="154.5" fill="#f7c8cd"/>
<rect x="548.3" y="539.7" width="5.7" height="155.8" fill="#2f58a8"/>
<rect x="567.7" y="566.5" width="5.7" height="129.0" fill="#f7c8cd"/>
<rect x="575.0" y="566.5" width="5.7" height="129.0" fill="#2f58a8"/>
<rect x="594.3" y="559.8" width="5.7" height="135.7" fill="#f7c8cd"/>
<rect x="601.7" y="567.9" width="5.7" height="127.6" fill="#2f58a8"/>
<rect x="621.0" y="530.9" width="5.7" height="164.6" fill="#f7c8cd"/>
<rect x="628.3" y="533.6" width="5.7" height="161.9" fill="#2f58a8"/>
<rect x="647.7" y="581.3" width="5.7" height="114.2" fill="#f7c8cd"/>
<rect x="655.0" y="566.5" width="5.7" height="129.0" fill="#2f58a8"/>
<rect x="674.3" y="572.6" width="5.7" height="122.9" fill="#f7c8cd"/>
<rect x="681.7" y="538.3" width="5.7" height="157.2" fill="#2f58a8"/>
<rect x="701.0" y="541.0" width="5.7" height="154.5" fill="#f7c8cd"/>
<rect x="708.3" y="571.2" width="5.7" height="124.3" fill="#2f58a8"/>
<rect x="727.7" y="576.6" width="5.7" height="118.9" fill="#f7c8cd"/>
<rect x="735.0" y="561.2" width="5.7" height="134.3" fill="#2f58a8"/>
<rect x="754.3" y="526.9" width="5.7" height="168.6" fill="#f7c8cd"/>
<rect x="761.7" y="533.6" width="5.7" height="161.9" fill="#2f58a8"/>
<line x1="458.0" y1="494.0" x2="458.0" y2="695.5" stroke="#7a7a7a" stroke-width="1.4"/>
<line x1="778.0" y1="494.0" x2="778.0" y2="695.5" stroke="#7a7a7a" stroke-width="1.4"/>
<line x1="454.0" y1="494.0" x2="458.0" y2="494.0" stroke="#7a7a7a" stroke-width="1.1"/>
<text x="450.5" y="498.2" font-size="13" fill="#2e2e2e" stroke="#2e2e2e" stroke-width="0.3" text-anchor="end" textLength="20.8" lengthAdjust="spacingAndGlyphs" font-family='"Liberation Sans", "Noto Sans CJK SC", sans-serif'>3000</text>
<line x1="454.0" y1="527.5833333333334" x2="458.0" y2="527.5833333333334" stroke="#7a7a7a" stroke-width="1.1"/>
<text x="450.5" y="531.78" font-size="13" fill="#2e2e2e" stroke="#2e2e2e" stroke-width="0.3" text-anchor="end" textLength="20.8" lengthAdjust="spacingAndGlyphs" font-family='"Liberation Sans", "Noto Sans CJK SC", sans-serif'>2500</text>
<line x1="454.0" y1="561.1666666666666" x2="458.0" y2="561.1666666666666" stroke="#7a7a7a" stroke-width="1.1"/>
<text x="450.5" y="565.37" font-size="13" fill="#2e2e2e" stroke="#2e2e2e" stroke-width="0.3" text-anchor="end" textLength="20.8" lengthAdjust="spacingAndGlyphs" font-family='"Liberation Sans", "Noto Sans CJK SC", sans-serif'>2000</text>
<line x1="454.0" y1="594.75" x2="458.0" y2="594.75" stroke="#7a7a7a" stroke-width="1.1"/>
<text x="450.5" y="598.95" font-size="13" fill="#2e2e2e" stroke="#2e2e2e" stroke-width="0.3" text-anchor="end" textLength="20.8" lengthAdjust="spacingAndGlyphs" font-family='"Liberation Sans", "Noto Sans CJK SC", sans-serif'>1500</text>
<line x1="454.0" y1="628.3333333333334" x2="458.0" y2="628.3333333333334" stroke="#7a7a7a" stroke-width="1.1"/>
<text x="450.5" y="632.53" font-size="13" fill="#2e2e2e" stroke="#2e2e2e" stroke-width="0.3" text-anchor="end" textLength="20.8" lengthAdjust="spacingAndGlyphs" font-family='"Liberation Sans", "Noto Sans CJK SC", sans-serif'>1000</text>
<line x1="454.0" y1="661.9166666666666" x2="458.0" y2="661.9166666666666" stroke="#7a7a7a" stroke-width="1.1"/>
<text x="450.5" y="666.12" font-size="13" fill="#2e2e2e" stroke="#2e2e2e" stroke-width="0.3" text-anchor="end" textLength="15.600000000000001" lengthAdjust="spacingAndGlyphs" font-family='"Liberation Sans", "Noto Sans CJK SC", sans-serif'>500</text>
<line x1="454.0" y1="695.5" x2="458.0" y2="695.5" stroke="#7a7a7a" stroke-width="1.1"/>
<text x="450.5" y="699.7" font-size="13" fill="#2e2e2e" stroke="#2e2e2e" stroke-width="0.3" text-anchor="end" textLength="5.2" lengthAdjust="spacingAndGlyphs" font-family='"Liberation Sans", "Noto Sans CJK SC", sans-serif'>0</text>
<line x1="778.0" y1="494.0" x2="782.0" y2="494.0" stroke="#7a7a7a" stroke-width="1.1"/>
<text x="785.5" y="498.2" font-size="13" fill="#2e2e2e" stroke="#2e2e2e" stroke-width="0.3" textLength="21.5" lengthAdjust="spacingAndGlyphs" font-family='"Liberation Sans", "Noto Sans CJK SC", sans-serif'>0. 35</text>
<line x1="778.0" y1="522.7857142857143" x2="782.0" y2="522.7857142857143" stroke="#7a7a7a" stroke-width="1.1"/>
<text x="785.5" y="526.99" font-size="13" fill="#2e2e2e" stroke="#2e2e2e" stroke-width="0.3" textLength="17.2" lengthAdjust="spacingAndGlyphs" font-family='"Liberation Sans", "Noto Sans CJK SC", sans-serif'>0. 3</text>
<line x1="778.0" y1="551.5714285714286" x2="782.0" y2="551.5714285714286" stroke="#7a7a7a" stroke-width="1.1"/>
<text x="785.5" y="555.77" font-size="13" fill="#2e2e2e" stroke="#2e2e2e" stroke-width="0.3" textLength="21.5" lengthAdjust="spacingAndGlyphs" font-family='"Liberation Sans", "Noto Sans CJK SC", sans-serif'>0. 25</text>
<line x1="778.0" y1="580.3571428571429" x2="782.0" y2="580.3571428571429" stroke="#7a7a7a" stroke-width="1.1"/>
<text x="785.5" y="584.56" font-size="13" fill="#2e2e2e" stroke="#2e2e2e" stroke-width="0.3" textLength="17.2" lengthAdjust="spacingAndGlyphs" font-family='"Liberation Sans", "Noto Sans CJK SC", sans-serif'>0. 2</text>
<line x1="778.0" y1="609.1428571428571" x2="782.0" y2="609.1428571428571" stroke="#7a7a7a" stroke-width="1.1"/>
<text x="785.5" y="613.34" font-size="13" fill="#2e2e2e" stroke="#2e2e2e" stroke-width="0.3" textLength="21.5" lengthAdjust="spacingAndGlyphs" font-family='"Liberation Sans", "Noto Sans CJK SC", sans-serif'>0. 15</text>
<line x1="778.0" y1="637.9285714285714" x2="782.0" y2="637.9285714285714" stroke="#7a7a7a" stroke-width="1.1"/>
<text x="785.5" y="642.13" font-size="13" fill="#2e2e2e" stroke="#2e2e2e" stroke-width="0.3" textLength="17.2" lengthAdjust="spacingAndGlyphs" font-family='"Liberation Sans", "Noto Sans CJK SC", sans-serif'>0. 1</text>
<line x1="778.0" y1="666.7142857142858" x2="782.0" y2="666.7142857142858" stroke="#7a7a7a" stroke-width="1.1"/>
<text x="785.5" y="670.91" font-size="13" fill="#2e2e2e" stroke="#2e2e2e" stroke-width="0.3" textLength="21.5" lengthAdjust="spacingAndGlyphs" font-family='"Liberation Sans", "Noto Sans CJK SC", sans-serif'>0. 05</text>
<line x1="778.0" y1="695.5" x2="782.0" y2="695.5" stroke="#7a7a7a" stroke-width="1.1"/>
<text x="785.5" y="699.7" font-size="13" fill="#2e2e2e" stroke="#2e2e2e" stroke-width="0.3" textLength="17.2" lengthAdjust="spacingAndGlyphs" font-family='"Liberation Sans", "Noto Sans CJK SC", sans-serif'>0. 0</text>
<line x1="454.0" y1="695.5" x2="778.0" y2="695.5" stroke="#7a7a7a" stroke-width="1.6"/>
<line x1="458.0" y1="695.5" x2="458.0" y2="699.5" stroke="#7a7a7a" stroke-width="1.1"/>
<line x1="484.6666666666667" y1="695.5" x2="484.6666666666667" y2="699.5" stroke="#7a7a7a" stroke-width="1.1"/>
<line x1="511.3333333333333" y1="695.5" x2="511.3333333333333" y2="699.5" stroke="#7a7a7a" stroke-width="1.1"/>
<line x1="538.0" y1="695.5" x2="538.0" y2="699.5" stroke="#7a7a7a" stroke-width="1.1"/>
<line x1="564.6666666666666" y1="695.5" x2="564.6666666666666" y2="699.5" stroke="#7a7a7a" stroke-width="1.1"/>
<line x1="591.3333333333334" y1="695.5" x2="591.3333333333334" y2="699.5" stroke="#7a7a7a" stroke-width="1.1"/>
<line x1="618.0" y1="695.5" x2="618.0" y2="699.5" stroke="#7a7a7a" stroke-width="1.1"/>
<line x1="644.6666666666667" y1="695.5" x2="644.6666666666667" y2="699.5" stroke="#7a7a7a" stroke-width="1.1"/>
<line x1="671.3333333333334" y1="695.5" x2="671.3333333333334" y2="699.5" stroke="#7a7a7a" stroke-width="1.1"/>
<line x1="698.0" y1="695.5" x2="698.0" y2="699.5" stroke="#7a7a7a" stroke-width="1.1"/>
<line x1="724.6666666666667" y1="695.5" x2="724.6666666666667" y2="699.5" stroke="#7a7a7a" stroke-width="1.1"/>
<line x1="751.3333333333334" y1="695.5" x2="751.3333333333334" y2="699.5" stroke="#7a7a7a" stroke-width="1.1"/>
<line x1="778.0" y1="695.5" x2="778.0" y2="699.5" stroke="#7a7a7a" stroke-width="1.1"/>
<text x="470.83" y="718.3" font-size="13.5" fill="#2e2e2e" stroke="#2e2e2e" stroke-width="0.3" text-anchor="middle" textLength="15.5" lengthAdjust="spacingAndGlyphs" font-family='"Liberation Sans", "Noto Sans CJK SC", sans-serif'>1月</text>
<text x="497.5" y="718.3" font-size="13.5" fill="#2e2e2e" stroke="#2e2e2e" stroke-width="0.3" text-anchor="middle" textLength="15.5" lengthAdjust="spacingAndGlyphs" font-family='"Liberation Sans", "Noto Sans CJK SC", sans-serif'>2月</text>
<text x="524.17" y="718.3" font-size="13.5" fill="#2e2e2e" stroke="#2e2e2e" stroke-width="0.3" text-anchor="middle" textLength="15.5" lengthAdjust="spacingAndGlyphs" font-family='"Liberation Sans", "Noto Sans CJK SC", sans-serif'>3月</text>
<text x="550.83" y="718.3" font-size="13.5" fill="#2e2e2e" stroke="#2e2e2e" stroke-width="0.3" text-anchor="middle" textLength="15.5" lengthAdjust="spacingAndGlyphs" font-family='"Liberation Sans", "Noto Sans CJK SC", sans-serif'>4月</text>
<text x="577.5" y="718.3" font-size="13.5" fill="#2e2e2e" stroke="#2e2e2e" stroke-width="0.3" text-anchor="middle" textLength="15.5" lengthAdjust="spacingAndGlyphs" font-family='"Liberation Sans", "Noto Sans CJK SC", sans-serif'>5月</text>
<text x="604.17" y="718.3" font-size="13.5" fill="#2e2e2e" stroke="#2e2e2e" stroke-width="0.3" text-anchor="middle" textLength="15.5" lengthAdjust="spacingAndGlyphs" font-family='"Liberation Sans", "Noto Sans CJK SC", sans-serif'>6月</text>
<text x="630.83" y="718.3" font-size="13.5" fill="#2e2e2e" stroke="#2e2e2e" stroke-width="0.3" text-anchor="middle" textLength="15.5" lengthAdjust="spacingAndGlyphs" font-family='"Liberation Sans", "Noto Sans CJK SC", sans-serif'>7月</text>
<text x="657.5" y="718.3" font-size="13.5" fill="#2e2e2e" stroke="#2e2e2e" stroke-width="0.3" text-anchor="middle" textLength="15.5" lengthAdjust="spacingAndGlyphs" font-family='"Liberation Sans", "Noto Sans CJK SC", sans-serif'>8月</text>
<text x="684.17" y="718.3" font-size="13.5" fill="#2e2e2e" stroke="#2e2e2e" stroke-width="0.3" text-anchor="middle" textLength="15.5" lengthAdjust="spacingAndGlyphs" font-family='"Liberation Sans", "Noto Sans CJK SC", sans-serif'>9月</text>
<text x="710.83" y="718.3" font-size="13.5" fill="#2e2e2e" stroke="#2e2e2e" stroke-width="0.3" text-anchor="middle" textLength="21.5" lengthAdjust="spacingAndGlyphs" font-family='"Liberation Sans", "Noto Sans CJK SC", sans-serif'>10月</text>
<text x="737.5" y="718.3" font-size="13.5" fill="#2e2e2e" stroke="#2e2e2e" stroke-width="0.3" text-anchor="middle" textLength="21.5" lengthAdjust="spacingAndGlyphs" font-family='"Liberation Sans", "Noto Sans CJK SC", sans-serif'>11月</text>
<text x="764.17" y="718.3" font-size="13.5" fill="#2e2e2e" stroke="#2e2e2e" stroke-width="0.3" text-anchor="middle" textLength="21.5" lengthAdjust="spacingAndGlyphs" font-family='"Liberation Sans", "Noto Sans CJK SC", sans-serif'>12月</text>
<polyline points="471.2,672.1 497.9,672.1 524.5,528.1" fill="none" stroke="#1c1c1c" stroke-width="2.2" stroke-linejoin="round" stroke-linecap="round" opacity="1"/>
<circle cx="471.2" cy="672.1" r="4.6" fill="#fff"/>
<circle cx="471.2" cy="672.1" r="3.4" fill="#1c1c1c"/>
<circle cx="497.9" cy="672.1" r="4.6" fill="#fff"/>
<circle cx="497.9" cy="672.1" r="3.4" fill="#1c1c1c"/>
<circle cx="524.5" cy="528.1" r="4.6" fill="#fff"/>
<circle cx="524.5" cy="528.1" r="3.4" fill="#1c1c1c"/>
<polyline points="477.5,432.6 479.5,434.2 481.5,432.6 483.5,434.2 485.5,432.6 487.5,434.2 489.5,432.6 491.5,434.2 493.5,432.6 495.5,434.2 497.5,432.6 499.5,434.2 501.5,432.6 503.5,434.2 505.5,432.6 507.5,434.2 509.5,432.6 511.5,434.2 513.5,432.6 515.5,434.2 517.5,432.6 519.5,434.2 521.5,432.6 523.5,434.2 525.5,432.6 527.5,434.2 529.5,432.6 531.5,434.2 533.5,432.6 535.5,434.2 537.5,432.6 539.5,434.2 541.5,432.6 543.5,434.2 545.5,432.6 547.5,434.2 549.5,432.6 551.5,434.2 553.5,432.6 555.5,434.2 557.5,432.6 559.5,434.2 561.5,432.6 563.5,434.2 565.5,432.6" fill="none" stroke="#8fcf8f" stroke-width="1.0" stroke-linejoin="round" stroke-linecap="round" opacity="1"/>
<text x="9.9" y="758" font-size="14" fill="#333" textLength="69" lengthAdjust="spacingAndGlyphs" font-family='"Liberation Sans", "Noto Sans CJK SC", sans-serif'>数据来源：</text>
<text x="80.2" y="757.7" font-size="15" fill="#333" stroke="#333" stroke-width="0.35" textLength="49.5" lengthAdjust="spacingAndGlyphs" font-family='"DejaVu Sans Mono", monospace'>MYSTEEL</text>
<text x="128.9" y="758" font-size="14" fill="#333" textLength="127.5" lengthAdjust="spacingAndGlyphs" font-family='"Liberation Sans", "Noto Sans CJK SC", sans-serif'>、五矿期货研究中心</text>
<text x="421" y="758" font-size="14" fill="#333" textLength="69" lengthAdjust="spacingAndGlyphs" font-family='"Liberation Sans", "Noto Sans CJK SC", sans-serif'>数据来源：</text>
<text x="491.3" y="757.7" font-size="15" fill="#333" stroke="#333" stroke-width="0.35" textLength="49.5" lengthAdjust="spacingAndGlyphs" font-family='"DejaVu Sans Mono", monospace'>MYSTEEL</text>
<text x="540" y="758" font-size="14" fill="#333" textLength="127.5" lengthAdjust="spacingAndGlyphs" font-family='"Liberation Sans", "Noto Sans CJK SC", sans-serif'>、五矿期货研究中心</text>
</svg>
</body></html>
